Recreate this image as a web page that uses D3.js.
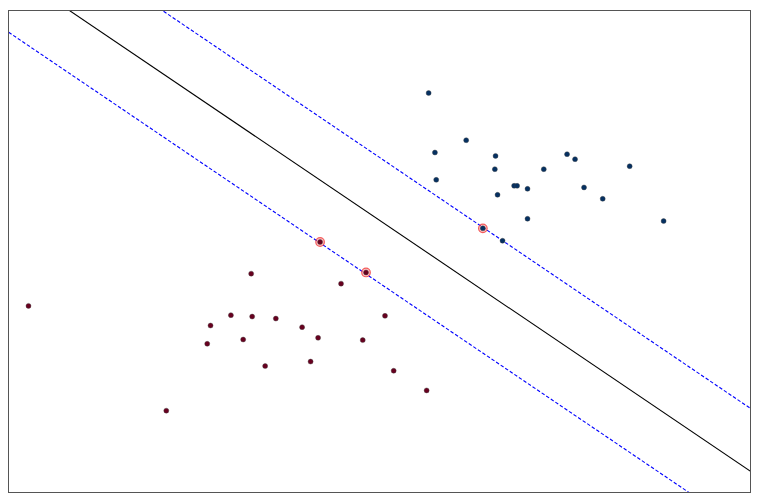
<!DOCTYPE html>
<html>
<head>
<meta charset="utf-8">
<script src="https://cdn.jsdelivr.net/npm/d3@7/dist/d3.min.js"></script>
<style>
html,body{margin:0;padding:0;background:#fff;}
svg{display:block;}
</style>
</head>
<body>
<script>
// Class 0 (dark red) points
const class0X = [243, 222.7, 244, 267.7, 202.3, 294, 235, 310, 199, 257, 302.5, 333, 377, 354.7, 385.7, 418.7, 20, 158, 312, 358];
const class0Y = [219.3, 177.7, 176.3, 174.3, 167.3, 165.7, 153.3, 155, 149, 126.7, 131.2, 209.3, 177, 152.7, 122, 102.3, 187, 82, 251, 220.5];
// Class 1 (dark blue) points
const class1X = [420.7, 458.3, 427, 487.7, 559.3, 567.3, 487, 536, 622, 428.3, 506.3, 509.3, 519.7, 576.3, 489.7, 595, 519.7, 656, 475, 494.7];
const class1Y = [400.3, 353, 340.7, 337.3, 339, 334, 324, 324, 327, 313.3, 307.3, 307.3, 304.3, 305.7, 298.3, 294.3, 274.3, 272, 264.7, 252.3];
// Support vectors: indices into class arrays
const supportClass0 = [18, 19];
const supportClass1 = [18];
// Decision function w·x + b (levels -1, 0, 1)
const weights = [0.677 / 63, 1 / 63];
const bias = -524.3 / 63;
const levels = [-1, 0, 1];

(function () {
const W = 761, H = 502;
const pLeft = 8.5, pRight = 750.5, pTop = 10.5, pBottom = 492.5;

const svg = d3.select("body").append("svg").attr("width", W).attr("height", H);

const x = d3.scaleLinear().domain([0, 743]).range([pLeft, pRight]);
const y = d3.scaleLinear().domain([0, 483]).range([pBottom, pTop]);

svg.append("clipPath").attr("id", "clip")
  .append("rect").attr("x", pLeft).attr("y", pTop)
  .attr("width", pRight - pLeft).attr("height", pBottom - pTop);

const g = svg.append("g").attr("clip-path", "url(#clip)");

// Decision boundary and margins
const xd = x.domain();
levels.forEach(lv => {
  const yAt = xv => (lv - bias - weights[0] * xv) / weights[1];
  const pts = [[xd[0] - 50, yAt(xd[0] - 50)], [xd[1] + 50, yAt(xd[1] + 50)]];
  g.append("path")
    .attr("d", d3.line().x(d => x(d[0])).y(d => y(d[1]))(pts))
    .attr("fill", "none")
    .attr("stroke", lv === 0 ? "#000" : "#0000ff")
    .attr("stroke-width", 1.1)
    .attr("stroke-dasharray", lv === 0 ? null : "3.5,2");
});

const pts0 = class0X.map((v, i) => ({x: v, y: class0Y[i], c: "#67001f"}));
const pts1 = class1X.map((v, i) => ({x: v, y: class1Y[i], c: "#053061"}));
const sv = supportClass0.map(i => pts0[i]).concat(supportClass1.map(i => pts1[i]));

g.selectAll("circle.sv").data(sv).enter().append("circle")
  .attr("class", "sv")
  .attr("cx", d => x(d.x)).attr("cy", d => y(d.y)).attr("r", 4.3)
  .attr("fill", "rgba(255,80,80,0.35)")
  .attr("stroke", "rgba(240,60,60,0.8)")
  .attr("stroke-width", 1.2);

g.selectAll("circle.pt").data(pts0.concat(pts1)).enter().append("circle")
  .attr("class", "pt")
  .attr("cx", d => x(d.x)).attr("cy", d => y(d.y)).attr("r", 2.5)
  .attr("fill", d => d.c)
  .attr("stroke", "#444")
  .attr("stroke-width", 0.4);

// Frame
svg.append("rect")
  .attr("x", pLeft).attr("y", pTop)
  .attr("width", pRight - pLeft).attr("height", pBottom - pTop)
  .attr("fill", "none").attr("stroke", "#555").attr("stroke-width", 1);
})();
</script>
</body>
</html>
